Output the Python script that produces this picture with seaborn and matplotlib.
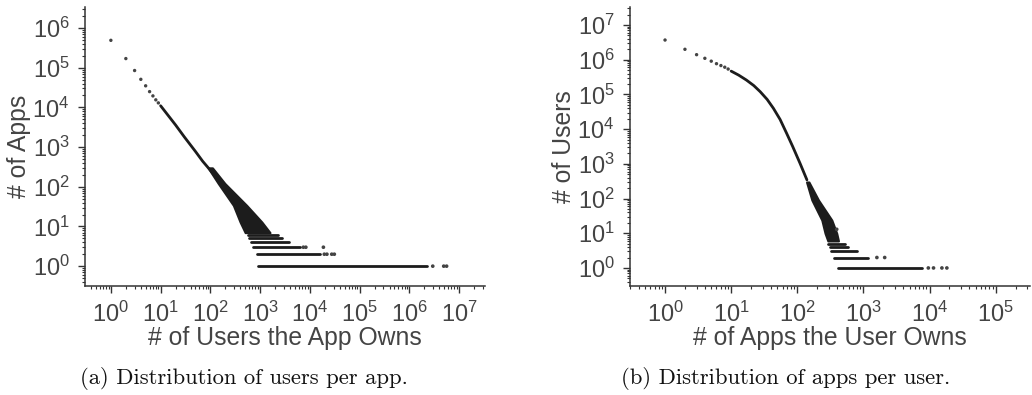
import numpy as np
import pandas as pd
import matplotlib
matplotlib.use("Agg")
import matplotlib.pyplot as plt
from matplotlib.ticker import LogLocator, NullFormatter, LogFormatterSciNotation
import seaborn as sns

# ---------------- data ----------------
# Panel (a): distribution of users per app
a_head_x = [1, 2, 3, 4, 5, 6, 7, 8, 9]
a_head_y = [4.9e5, 1.7e5, 8.5e4, 5.1e4, 3.5e4, 2.5e4, 1.95e4, 1.55e4, 1.3e4]
a_line_x = [10, 20, 30, 50, 70, 100, 150]
a_line_y = [1.1e4, 3.6e3, 1.8e3, 780, 440, 260, 140]
a_spread_y = [300, 121, 34, 13, 7]
a_spread_xl = [90, 144, 290, 395, 500]
a_spread_xr = [110, 196, 537, 1080, 1580]
a_band_y = [1, 2, 3, 4, 5, 6]
a_band_start = [910, 850, 730, 650, 600, 580]
a_band_end = [2.3e6, 1.6e4, 6.3e3, 3.8e3, 2.7e3, 2.3e3]
a_out_x = [2.95e6, 4.9e6, 5.6e6, 1.95e4, 2.2e4, 2.75e4, 3.1e4, 7.4e3, 8.3e3, 1.87e4]
a_out_y = [1, 1, 1, 2, 2, 2, 2, 3, 3, 3]
a_xdecades = [0, 1, 2, 3, 4, 5, 6, 7]
a_ydecades = [0, 1, 2, 3, 4, 5, 6]

# Panel (b): distribution of apps per user
b_head_x = [1, 2, 3, 4, 5, 6, 7, 8, 9]
b_head_y = [3.7e6, 2.0e6, 1.4e6, 1.1e6, 9.1e5, 7.7e5, 6.8e5, 6.1e5, 5.4e5]
b_line_x = [10, 13, 17, 22, 27.5, 35, 43.5, 55, 69, 85, 110, 140]
b_line_y = [4.7e5, 3.6e5, 2.6e5, 1.8e5, 1.2e5, 7.2e4, 4.0e4, 1.9e4, 7.6e3, 3.2e3, 1.04e3, 345]
b_spread_y = [300, 91, 24, 10, 6]
b_spread_xl = [138, 166, 235, 263, 290]
b_spread_xr = [150, 209, 333, 395, 420]
b_band_y = [1, 2, 3, 4, 5]
b_band_start = [420, 354, 322, 310, 295]
b_band_end = [7.6e3, 1.19e3, 795, 590, 530]
b_out_x = [9.6e3, 1.15e4, 1.54e4, 1.83e4, 1.6e3, 2.1e3, 395]
b_out_y = [1, 1, 1, 1, 2, 2, 13]
b_xdecades = [0, 1, 2, 3, 4, 5]
b_ydecades = [0, 1, 2, 3, 4, 5, 6, 7]

x_labels = ["# of Users the App Owns", "# of Apps the User Owns"]
y_labels = ["# of Apps", "# of Users"]
captions = ["(a) Distribution of users per app.", "(b) Distribution of apps per user."]

# ---------------- style ----------------
sns.set_theme(style="ticks")
plt.rcParams["font.family"] = ["Liberation Sans", "DejaVu Sans"]
plt.rcParams["mathtext.default"] = "regular"

DARK = "#1c1c1c"
GREY = "#444444"

fig = plt.figure(figsize=(10.32, 3.95), dpi=100)
ax_a = fig.add_axes([85 / 1032, 109 / 395, 400 / 1032, 279 / 395])
ax_b = fig.add_axes([630 / 1032, 109 / 395, 400 / 1032, 279 / 395])


def draw(ax, hx, hy, lx, ly, sy, sxl, sxr, by, bs, be, ox, oy, xlim, ylim, xdec, ydec):
    ax.set_xscale("log")
    ax.set_yscale("log")
    sns.scatterplot(x=hx, y=hy, ax=ax, s=6, color=GREY, edgecolor="none", legend=False)
    sns.lineplot(x=lx, y=ly, ax=ax, color=DARK, linewidth=2.0, legend=False)
    ax.fill_betweenx(sy, sxl, sxr, color=DARK, linewidth=1.5, edgecolor=DARK)
    for yv, s, e in zip(by, bs, be):
        sns.lineplot(x=[s, e], y=[yv, yv], ax=ax, color=DARK, linewidth=2.0, legend=False)
    sns.scatterplot(x=ox, y=oy, ax=ax, s=7, color=GREY, edgecolor="none", legend=False)

    ax.set_xticks([10.0 ** d for d in xdec])
    ax.set_yticks([10.0 ** d for d in ydec])
    ax.xaxis.set_major_formatter(LogFormatterSciNotation())
    ax.yaxis.set_major_formatter(LogFormatterSciNotation())
    ax.xaxis.set_minor_locator(LogLocator(base=10, subs=np.arange(2, 10), numticks=30))
    ax.yaxis.set_minor_locator(LogLocator(base=10, subs=np.arange(2, 10), numticks=30))
    ax.xaxis.set_minor_formatter(NullFormatter())
    ax.yaxis.set_minor_formatter(NullFormatter())
    ax.set_xlim(*xlim)
    ax.set_ylim(*ylim)
    sns.despine(ax=ax)
    for sp in ("left", "bottom"):
        ax.spines[sp].set_color("#333333")
        ax.spines[sp].set_linewidth(1.1)
    ax.tick_params(which="major", direction="out", length=5, width=1.0,
                   color="#333333", labelsize=17, labelcolor=GREY, pad=6)
    ax.tick_params(which="minor", direction="out", length=2.5, width=0.8, color="#333333")


draw(ax_a, a_head_x, a_head_y, a_line_x, a_line_y, a_spread_y, a_spread_xl, a_spread_xr,
     a_band_y, a_band_start, a_band_end, a_out_x, a_out_y,
     (10 ** -0.52, 10 ** 7.52), (10 ** -0.5, 10 ** 6.53), a_xdecades, a_ydecades)
draw(ax_b, b_head_x, b_head_y, b_line_x, b_line_y, b_spread_y, b_spread_xl, b_spread_xr,
     b_band_y, b_band_start, b_band_end, b_out_x, b_out_y,
     (10 ** -0.53, 10 ** 5.52), (10 ** -0.52, 10 ** 7.52), b_xdecades, b_ydecades)

for ax, xl, yl in zip((ax_a, ax_b), x_labels, y_labels):
    ax.set_xlabel(xl, fontsize=17.8, color=GREY, labelpad=0)
    ax.set_ylabel(yl, fontsize=17.8, color=GREY, labelpad=1)

fig.text(244 / 1032, 1 - 379 / 395, captions[0], fontsize=16.3, family="cmr10",
         ha="center", va="center", color="#111111")
fig.text(786 / 1032, 1 - 379 / 395, captions[1], fontsize=16.3, family="cmr10",
         ha="center", va="center", color="#111111")

fig.savefig("out.png", dpi=100)
